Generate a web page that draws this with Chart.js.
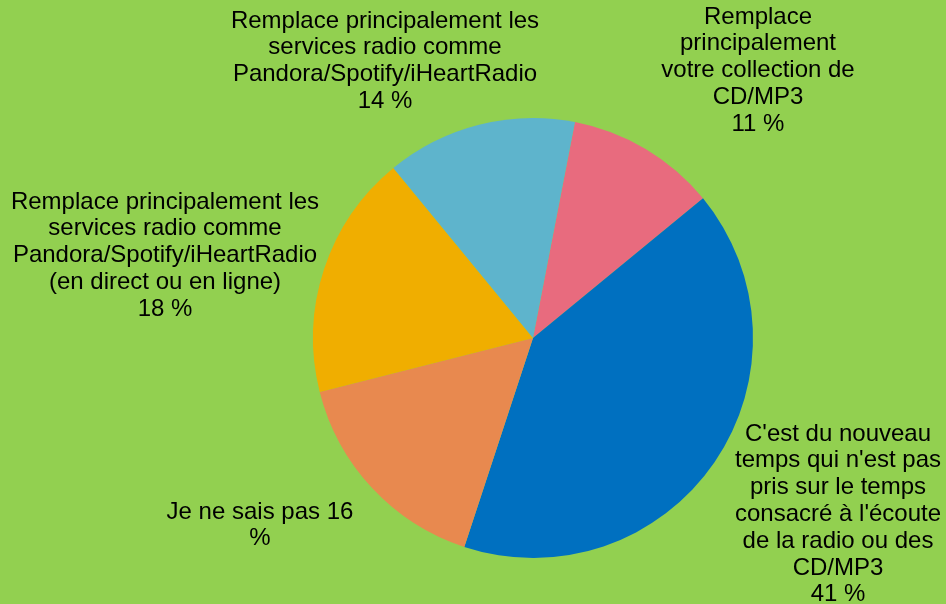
<!DOCTYPE html>
<html>
<head>
<meta charset="utf-8">
<script src="https://cdn.jsdelivr.net/npm/chart.js@4/dist/chart.umd.min.js"></script>
<style>
html,body{margin:0;padding:0;background:#92D050;}
#wrap{width:946px;height:604px;position:relative;}
</style>
</head>
<body>
<div id="wrap"><canvas id="c" width="946" height="604"></canvas></div>
<script>
const categories = [
  "Remplace principalement votre collection de CD/MP3",
  "C'est du nouveau temps qui n'est pas pris sur le temps consacré à l'écoute de la radio ou des CD/MP3",
  "Je ne sais pas",
  "Remplace principalement les services radio comme Pandora/Spotify/iHeartRadio (en direct ou en ligne)",
  "Remplace principalement les services radio comme Pandora/Spotify/iHeartRadio"
];
const values = [11, 41, 16, 18, 14];
const percentLabels = ["11 %", "41 %", "16 %", "18 %", "14 %"];
const labelLines = [
  ["Remplace", "principalement", "votre collection de", "CD/MP3", "11 %"],
  ["C'est du nouveau", "temps qui n'est pas", "pris sur le temps", "consacré à l'écoute", "de la radio ou des", "CD/MP3", "41 %"],
  ["Je ne sais pas 16", "%"],
  ["Remplace principalement les", "services radio comme", "Pandora/Spotify/iHeartRadio", "(en direct ou en ligne)", "18 %"],
  ["Remplace principalement les", "services radio comme", "Pandora/Spotify/iHeartRadio", "14 %"]
];
const colors = ["#E86B7E", "#0070C0", "#E8894F", "#F0AE00", "#5EB4CC"];
// label anchor: center x and y of first line
const labelPos = [[758, 17], [838, 434], [260, 512], [165, 202], [385, 21]];
const lineH = 26.8;

const labelPlugin = {
  id: 'outLabels',
  afterDraw(chart) {
    const ctx = chart.ctx;
    ctx.save();
    ctx.font = '24px "Liberation Sans", Arial, sans-serif';
    ctx.fillStyle = '#000';
    ctx.textAlign = 'center';
    ctx.textBaseline = 'middle';
    labelLines.forEach((lines, i) => {
      const [x, y] = labelPos[i];
      lines.forEach((t, j) => ctx.fillText(t, x, y + j * lineH));
    });
    ctx.restore();
  }
};

new Chart(document.getElementById('c'), {
  type: 'pie',
  data: {
    labels: categories,
    datasets: [{
      data: values,
      backgroundColor: colors,
      borderWidth: 0
    }]
  },
  options: {
    responsive: false,
    animation: false,
    rotation: 11,
    layout: { padding: { top: 118, bottom: 46, left: 313, right: 193 } },
    plugins: { legend: { display: false }, tooltip: { enabled: false } }
  },
  plugins: [labelPlugin]
});
</script>
</body>
</html>
